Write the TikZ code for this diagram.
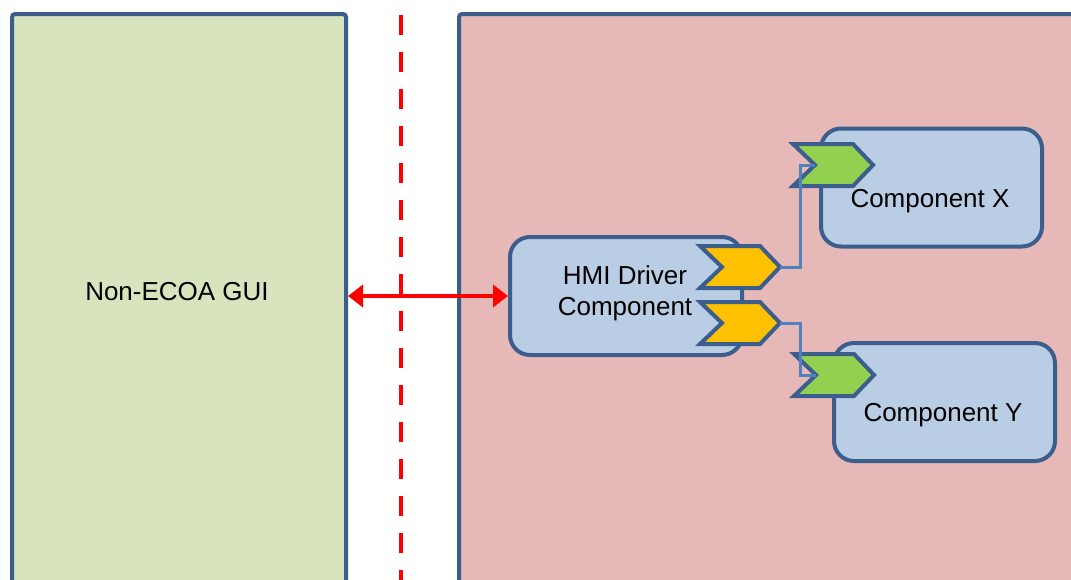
\documentclass[tikz,border=0pt]{standalone}
\usepackage{fontspec}
\setmainfont{Liberation Sans}
\usetikzlibrary{arrows.meta}

\definecolor{edgeblue}{HTML}{3B5E8C}
\definecolor{linkblue}{HTML}{4F81BD}
\definecolor{guigreen}{HTML}{D7E4BD}
\definecolor{sysred}{HTML}{E6B9B8}
\definecolor{compblue}{HTML}{B9CDE5}
\definecolor{portyellow}{HTML}{FFC000}
\definecolor{portgreen}{HTML}{92D050}

\tikzset{
    comp/.style={draw=edgeblue, fill=compblue, line width=4pt,
        rounded corners=20pt, minimum width=221pt, minimum height=118pt},
    lbl/.style={font=\fontsize{26}{31}\selectfont, align=center},
    link/.style={draw=linkblue, line width=3pt},
    chevron/.pic={
        \draw[draw=edgeblue, line width=4pt, line join=miter, fill=#1]
            (-40,-21) -- (20,-21) -- (40,0) -- (20,21) -- (-40,21) -- (-18,0) -- cycle;
        \coordinate (-tip) at (40,0);
        \coordinate (-notch) at (-18,0);
    }
}

\begin{document}
\begin{tikzpicture}[x=1pt,y=-1pt]
    \useasboundingbox (0,0) rectangle (1071,579);
    \clip (0,0) rectangle (1071,579);

    % outside world
    \node[draw=edgeblue, fill=guigreen, line width=4pt, rounded corners=3pt,
        minimum width=334pt, minimum height=600pt, anchor=north west,
        inner sep=0pt] (gui) at (10,12) {};
    \node[lbl] (guitext) at (177,292) {Non-ECOA GUI};

    % boundary
    \draw[red, line width=4pt, dash pattern=on 20pt off 17pt] (401,15) -- (401,590);

    % ECOA system
    \draw[draw=edgeblue, fill=sysred, line width=4pt, rounded corners=3pt]
        (459,14) rectangle (1100,600);

    % components
    \node[comp, minimum width=232pt] (hmi) at (626,296) {};
    \node[lbl] (hmitext) at (625,293) {HMI Driver\\Component};
    \node[comp] (compx) at (931.5,187.5) {};
    \node[lbl] (compxtext) at (930,201) {Component X};
    \node[comp] (compy) at (944.5,402) {};
    \node[lbl] (compytext) at (943,415) {Component Y};

    % ports
    \pic (outa) at (740,267) {chevron=portyellow};
    \pic (outb) at (740,323) {chevron=portyellow};
    \pic (inx) at (833,165) {chevron=portgreen};
    \pic (iny) at (834,375) {chevron=portgreen};

    % links
    \draw[link] (outa-tip) -- ++(20,0) |- (inx-notch);
    \draw[link] (outb-tip) -- ++(20,0) |- (iny-notch);

    \draw[red, line width=4pt, {Triangle[length=15pt,width=22pt]}-{Triangle[length=15pt,width=22pt]}]
        (hmi.west -| gui.east) -- (hmi.west);
\end{tikzpicture}
\end{document}
